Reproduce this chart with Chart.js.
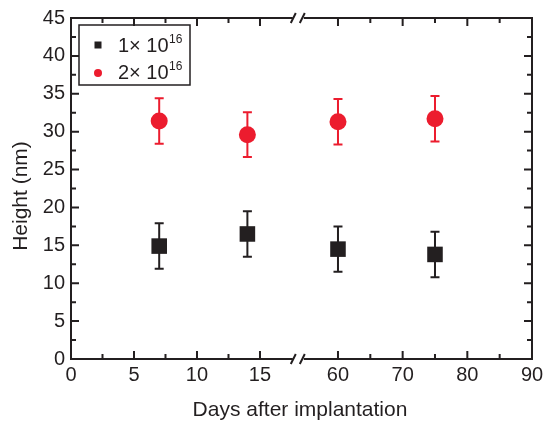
<!DOCTYPE html>
<html><head><meta charset="utf-8">
<script src="https://cdn.jsdelivr.net/npm/chart.js@4/dist/chart.umd.min.js"></script>
<style>html,body{margin:0;padding:0;background:#fff;overflow:hidden}</style>
</head><body>
<canvas id="c" width="551" height="422"></canvas>
<script>
// ---- data ----
const days = [7, 14, 60, 75];
const height1 = [14.9, 16.5, 14.5, 13.8];
const err1 = [3.0, 3.0, 3.0, 3.0];
const height2 = [31.4, 29.6, 31.3, 31.7];
const err2 = [3.0, 2.95, 3.0, 3.0];
const seriesBase = ['1\u00d7 10', '2\u00d7 10'];
const seriesExp = ['16', '16'];
const xTickDays = [0, 5, 10, 15, 60, 70, 80, 90];
const xMinorDays = [2.5, 7.5, 12.5, 65, 75, 85];
const yTickValues = [0, 5, 10, 15, 20, 25, 30, 35, 40, 45];
const yMinorValues = [2.5, 7.5, 12.5, 17.5, 22.5, 27.5, 32.5, 37.5, 42.5];
const xTitle = 'Days after implantation';
const yTitle = 'Height (nm)';

// ---- broken x axis mapping (0-15 | 60-90) ----
const BREAK_LO = 15, BREAK_HI = 60, RIGHT_START = 21.19, RIGHT_SCALE = 0.5133, BREAK_POS = 18.0;
function toAxis(d) { return d <= BREAK_LO ? d : RIGHT_START + (d - BREAK_HI) * RIGHT_SCALE; }

const BLACK = '#231f20';
const RED = '#ec1c2e';
const FONT = '"Liberation Sans", Arial, Helvetica, sans-serif';

const errData = [err1, err2];

const decor = {
  id: 'decor',
  beforeDatasetsDraw(chart) {
    const ctx = chart.ctx, xs = chart.scales.x, ys = chart.scales.y;
    chart.data.datasets.forEach((ds, di) => {
      ctx.save();
      ctx.strokeStyle = ds.backgroundColor;
      ctx.lineWidth = 2;
      ds.data.forEach((p, i) => {
        const e = errData[di][i];
        const px = xs.getPixelForValue(p.x);
        const yt = ys.getPixelForValue(p.y + e), yb = ys.getPixelForValue(p.y - e);
        ctx.beginPath();
        ctx.moveTo(px, yt); ctx.lineTo(px, yb);
        ctx.moveTo(px - 4.5, yt); ctx.lineTo(px + 4.5, yt);
        ctx.moveTo(px - 4.5, yb); ctx.lineTo(px + 4.5, yb);
        ctx.stroke();
      });
      ctx.restore();
    });
  },
  afterDraw(chart) {
    const ctx = chart.ctx, xs = chart.scales.x, ys = chart.scales.y;
    const a = chart.chartArea;
    const L = a.left, R = a.right, T = a.top, B = a.bottom;
    const bp = xs.getPixelForValue(BREAK_POS);
    ctx.save();
    ctx.strokeStyle = BLACK;
    ctx.lineWidth = 2;
    ctx.lineCap = 'butt';
    // frame
    ctx.beginPath();
    ctx.moveTo(L, T - 1); ctx.lineTo(L, B + 1);
    ctx.moveTo(R, T - 1); ctx.lineTo(R, B + 1);
    ctx.moveTo(L, T); ctx.lineTo(bp - 5, T);
    ctx.moveTo(bp + 6, T); ctx.lineTo(R, T);
    ctx.moveTo(L, B); ctx.lineTo(bp - 5, B);
    ctx.moveTo(bp + 6, B); ctx.lineTo(R, B);
    ctx.stroke();
    // break marks
    [T, B].forEach(y => {
      ctx.beginPath();
      ctx.moveTo(bp - 7, y + 5); ctx.lineTo(bp - 2, y - 5);
      ctx.moveTo(bp + 2, y + 5); ctx.lineTo(bp + 7, y - 5);
      ctx.stroke();
    });
    // ticks (inward)
    ctx.beginPath();
    xTickDays.forEach(d => {
      const px = xs.getPixelForValue(toAxis(d));
      ctx.moveTo(px, B); ctx.lineTo(px, B - 8);
      ctx.moveTo(px, T); ctx.lineTo(px, T + 8);
    });
    xMinorDays.forEach(d => {
      const px = xs.getPixelForValue(toAxis(d));
      ctx.moveTo(px, B); ctx.lineTo(px, B - 5);
      ctx.moveTo(px, T); ctx.lineTo(px, T + 5);
    });
    yTickValues.forEach(v => {
      const py = ys.getPixelForValue(v);
      ctx.moveTo(L, py); ctx.lineTo(L + 8, py);
      ctx.moveTo(R, py); ctx.lineTo(R - 8, py);
    });
    yMinorValues.forEach(v => {
      const py = ys.getPixelForValue(v);
      ctx.moveTo(L, py); ctx.lineTo(L + 5, py);
      ctx.moveTo(R, py); ctx.lineTo(R - 5, py);
    });
    ctx.stroke();
    // axis titles
    ctx.fillStyle = BLACK;
    ctx.font = '21px ' + FONT;
    ctx.textAlign = 'center';
    ctx.textBaseline = 'middle';
    ctx.fillText(xTitle, 300, 410);
    ctx.save();
    ctx.translate(21, 196);
    ctx.rotate(-Math.PI / 2);
    ctx.fillText(yTitle, 0, 0);
    ctx.restore();
    // legend
    ctx.lineWidth = 1.5;
    ctx.strokeRect(79, 25, 111, 60);
    ctx.fillStyle = BLACK;
    ctx.fillRect(98 - 3.5, 45 - 3.5, 7, 7);
    ctx.fillStyle = RED;
    ctx.beginPath(); ctx.arc(98, 73, 4, 0, Math.PI * 2); ctx.fill();
    ctx.fillStyle = BLACK;
    ctx.textAlign = 'left';
    ctx.textBaseline = 'alphabetic';
    [[52, 0], [79, 1]].forEach(([by, k]) => {
      ctx.font = '20px ' + FONT;
      ctx.fillText(seriesBase[k], 118, by);
      const w = ctx.measureText(seriesBase[k]).width;
      ctx.font = '12px ' + FONT;
      ctx.fillText(seriesExp[k], 118 + w + 0.5, by - 9);
    });
    ctx.restore();
  }
};

new Chart(document.getElementById('c').getContext('2d'), {
  type: 'scatter',
  data: {
    datasets: [
      {
        label: seriesBase[0] + seriesExp[0],
        data: days.map((d, i) => ({ x: toAxis(d), y: height1[i] })),
        pointStyle: 'rect', pointRadius: 11, pointHoverRadius: 11,
        backgroundColor: BLACK, borderColor: BLACK, borderWidth: 0
      },
      {
        label: seriesBase[1] + seriesExp[1],
        data: days.map((d, i) => ({ x: toAxis(d), y: height2[i] })),
        pointStyle: 'circle', pointRadius: 8.5, pointHoverRadius: 8.5,
        backgroundColor: RED, borderColor: RED, borderWidth: 0
      }
    ]
  },
  options: {
    responsive: false, devicePixelRatio: 1, animation: false,
    layout: { padding: { top: 18, right: 19, left: 0, bottom: 0 } },
    plugins: { legend: { display: false }, tooltip: { enabled: false } },
    events: [],
    scales: {
      x: {
        type: 'linear', min: 0, max: toAxis(90),
        afterBuildTicks: s => { s.ticks = xTickDays.map(d => ({ value: toAxis(d) })); },
        afterFit: s => { s.height = 63; },
        ticks: {
          callback: (v, i) => String(xTickDays[i]),
          autoSkip: false, maxRotation: 0, padding: 4,
          color: BLACK, font: { family: FONT, size: 20 }
        },
        grid: { display: false, drawTicks: false },
        border: { display: false }
      },
      y: {
        type: 'linear', min: 0, max: 45,
        afterBuildTicks: s => { s.ticks = yTickValues.map(v => ({ value: v })); },
        afterFit: s => { s.width = 71; },
        ticks: {
          callback: v => String(v),
          autoSkip: false, padding: 6,
          color: BLACK, font: { family: FONT, size: 20 }
        },
        grid: { display: false, drawTicks: false },
        border: { display: false }
      }
    }
  },
  plugins: [decor]
});
</script>
</body></html>
